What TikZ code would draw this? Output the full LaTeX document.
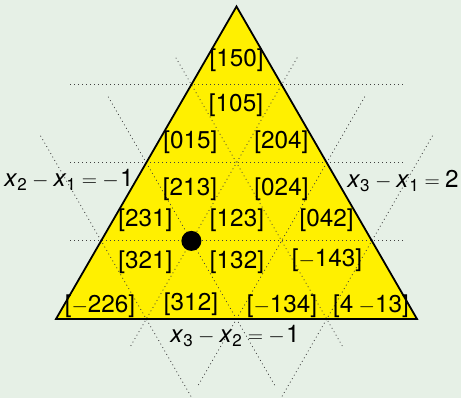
\documentclass[tikz,border=0pt]{standalone}
\usepackage[no-math]{fontspec}
\setmainfont{TeX Gyre Heros}
\definecolor{bg}{RGB}{230,240,230}
\definecolor{tri}{RGB}{255,240,0}
\newcommand{\vx}[1]{\textit{x}\textsubscript{#1}}
\newcommand{\mmin}{\scalebox{0.85}{$-$}}
\newcommand{\meq}{\scalebox{0.85}{$=$}}
\begin{document}
\begin{tikzpicture}[x=1pt,y=-1pt,
  lbl/.style={font=\fontsize{24.3}{28}\selectfont, anchor=base, inner sep=0pt},
  gridline/.style={line width=0.8pt, black!75, dash pattern=on 0.9pt off 3.1pt},
  edge/.style={line width=1.8pt, line join=miter}]
\fill[bg] (0,0) rectangle (461,398);
\useasboundingbox (0,0) rectangle (461,398);
\coordinate (A) at (56,319);
\coordinate (B) at (417,319);
\coordinate (C) at (236.5,6.5);
\coordinate (G) at (236.5,214.83);
\fill[tri] (A) -- (B) -- (C) -- cycle;
\foreach \a in {0,120,240}
  \foreach \d in {26.04,-52.08,-130.21}
    \draw[gridline, rotate around={\a:(G)}] (70,214.83+\d) -- (403,214.83+\d);
\draw[edge] (A) -- (B) -- (C) -- cycle;
\node[lbl] (l150) at (236.7,66.7) {[150]};
\node[lbl] (l105) at (236,112) {[105]};
\node[lbl] (l015) at (190.3,149) {[015]};
\node[lbl] (l204) at (281.3,149) {[204]};
\node[lbl] (l213) at (190,196) {[213]};
\node[lbl] (l024) at (281.5,196) {[024]};
\node[lbl] (l231) at (145.3,227) {[231]};
\node[lbl] (l123) at (237,227) {[123]};
\node[lbl] (l042) at (326.7,227) {[042]};
\node[lbl] (l321) at (145.3,269) {[321]};
\node[lbl] (l132) at (237,269) {[132]};
\node[lbl] (l143) at (327,267) {[\mmin143]};
\node[lbl] (l226) at (100,313) {[\mmin226]};
\node[lbl] (l312) at (191,310.5) {[312]};
\node[lbl] (l134) at (282,313) {[\mmin134]};
\node[lbl] (l413) at (371,313) {[4\hspace{0.22em}\mmin13]};
\node[lbl] (e21) at (69,187) {\vx{2}\hspace{0.2em}\mmin\hspace{0.2em}\vx{1}\hspace{0.22em}\meq\hspace{0.22em}\mmin\hspace{0.05em}1};
\node[lbl] (e31) at (403,188) {\vx{3}\hspace{0.2em}\mmin\hspace{0.2em}\vx{1}\hspace{0.22em}\meq\hspace{0.22em}2};
\node[lbl] (e32) at (235,343) {\vx{3}\hspace{0.2em}\mmin\hspace{0.2em}\vx{2}\hspace{0.22em}\meq\hspace{0.22em}\mmin\hspace{0.05em}1};
\fill (191.4,240.9) circle (10pt);
\end{tikzpicture}
\end{document}
